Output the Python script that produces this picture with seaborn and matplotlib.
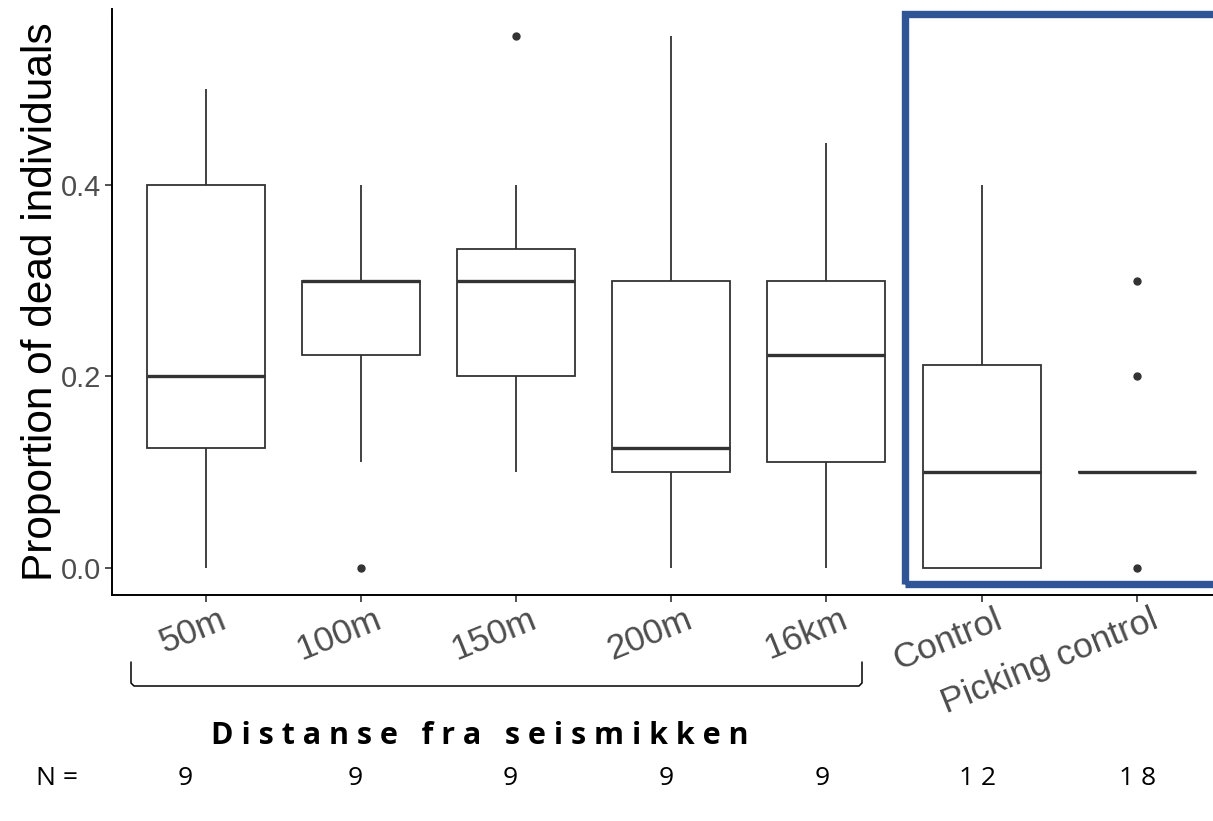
import numpy as np
import pandas as pd
import matplotlib
matplotlib.use("Agg")
import matplotlib.pyplot as plt
import matplotlib.transforms as mtransforms
from matplotlib.patches import Rectangle
from matplotlib.lines import Line2D
import seaborn as sns

# groups on the x axis and the N row under the chart
groups = ['50m', '100m', '150m', '200m', '16km', 'Control', 'Picking control']
n_labels = ['9', '9', '9', '9', '9', '1 2', '1 8']

# proportion of dead individuals per sample
p_50m = [0.0, 0.1, 0.125, 0.2, 0.2, 0.3, 0.4, 0.4, 0.5]
p_100m = [0.0, 0.111, 0.222, 0.3, 0.3, 0.3, 0.3, 0.333, 0.4]
p_150m = [0.1, 0.2, 0.2, 0.3, 0.3, 0.3, 0.333, 0.4, 0.556]
p_200m = [0.0, 0.1, 0.1, 0.111, 0.125, 0.2, 0.3, 0.4, 0.556]
p_16km = [0.0, 0.1, 0.111, 0.2, 0.222, 0.3, 0.3, 0.4, 0.444]
p_control = [0.0, 0.0, 0.0, 0.0, 0.0, 0.1, 0.1, 0.1, 0.2, 0.25, 0.3, 0.4]
p_picking = [0.0, 0.1, 0.1, 0.1, 0.1, 0.1, 0.1, 0.1, 0.1, 0.1, 0.1, 0.1,
             0.1, 0.1, 0.1, 0.1, 0.2, 0.3]

all_vals = [p_50m, p_100m, p_150m, p_200m, p_16km, p_control, p_picking]
df = pd.concat([pd.DataFrame({'group': g, 'prop': v}) for g, v in zip(groups, all_vals)],
               ignore_index=True)

sns.set_theme(style='ticks')
plt.rcParams['font.family'] = ['Liberation Sans', 'DejaVu Sans']

W, H = 1213, 821
fig = plt.figure(figsize=(W / 100, H / 100), dpi=100)
ax = fig.add_axes([112.5 / W, 1 - 594.6 / H, 1117.5 / W, 585.2 / H])

grey20 = '#333333'
sns.boxplot(data=df, x='group', y='prop', order=groups, ax=ax, width=0.76,
            color='white', saturation=1, linecolor=grey20, linewidth=1.3,
            fliersize=5, showcaps=False,
            medianprops={'linewidth': 2.4, 'color': grey20},
            flierprops={'marker': 'o', 'markerfacecolor': grey20,
                        'markeredgecolor': grey20})

ax.set_xlim(-0.6, 6.6)
ax.set_ylim(-0.0278, 0.5834)
ax.set_yticks([0.0, 0.2, 0.4])
ax.set_yticklabels(['0.0', '0.2', '0.4'])
sns.despine(ax=ax)
for s in ['left', 'bottom']:
    ax.spines[s].set_linewidth(1.4)
    ax.spines[s].set_color('black')
ax.tick_params(axis='both', length=5, width=1.2, color=grey20,
               labelcolor='#4D4D4D', pad=3)
ax.tick_params(axis='y', labelsize=21)
ax.tick_params(axis='x', labelsize=25.5)

ax.set_xlabel('')
ax.set_ylabel('Proportion of dead individuals', fontsize=30.5, color='black')
ax.yaxis.set_label_coords(-0.046, 0.5)

offset = mtransforms.ScaledTranslation(0.13, 0.03, fig.dpi_scale_trans)
for lab in ax.get_xticklabels():
    lab.set_rotation(22)
    lab.set_ha('right')
    lab.set_va('top')
    lab.set_rotation_mode('anchor')
    lab.set_transform(lab.get_transform() + offset)

# blue frame round the two control groups (runs off the right edge)
fig.add_artist(Rectangle((904.5 / W, 1 - 584 / H), 330 / W, (584 - 14.5) / H,
                         transform=fig.transFigure, fill=False,
                         edgecolor='#2F5597', linewidth=5.3))

# bracket under the distance groups
bx = np.array([131, 131, 134, 859, 862, 862]) / W
by = 1 - np.array([662, 683, 686, 686, 683, 662]) / H
fig.add_artist(Line2D(bx, by, transform=fig.transFigure, color='black', linewidth=1.1))

fig.text(480 / W, 1 - 736 / H, 'D i s t a n s e   f r a   s e i s m i k k e n',
         ha='center', va='center', fontsize=22, fontweight='bold',
         family=['Open Sans', 'DejaVu Sans'], color='black')

n_x = [185, 355, 510, 666, 822, 978, 1138]
fig.text(57 / W, 1 - 778 / H, 'N =', ha='center', va='center', fontsize=19,
         family=['Open Sans', 'DejaVu Sans'], color='black')
for x, t in zip(n_x, n_labels):
    fig.text(x / W, 1 - 778 / H, t, ha='center', va='center', fontsize=19,
             family=['Open Sans', 'DejaVu Sans'], color='black')

fig.savefig('out.png', dpi=100)
